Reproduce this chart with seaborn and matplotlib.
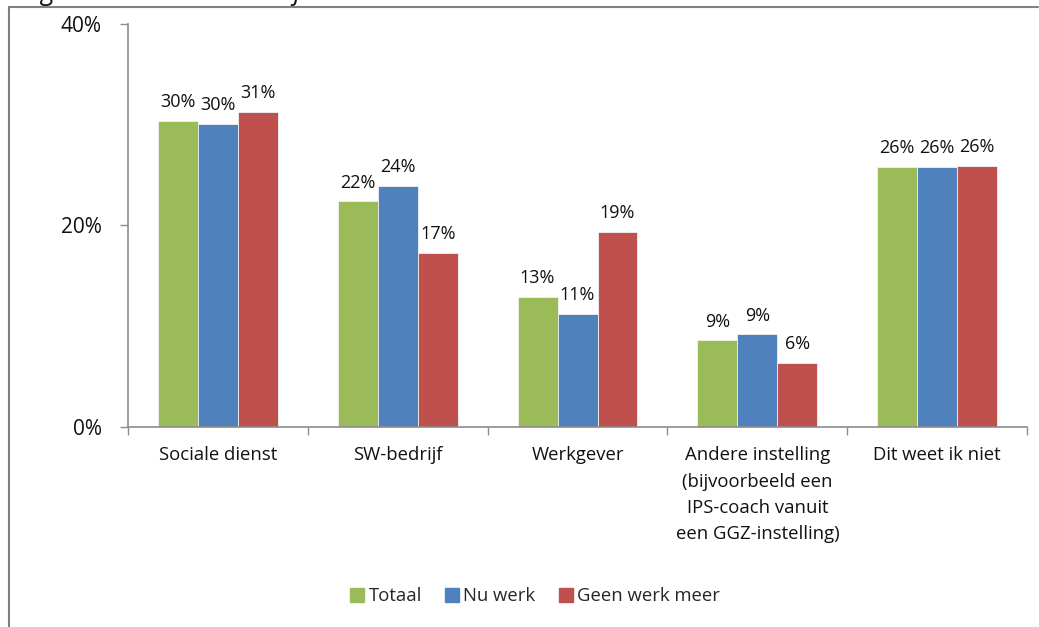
import matplotlib
matplotlib.use("Agg")
import matplotlib.pyplot as plt
from matplotlib.lines import Line2D
from matplotlib.ticker import FixedLocator
import numpy as np
import pandas as pd
import seaborn as sns

# Herkomst jobcoach, per groep (percentages)
categories = [
    "Sociale dienst",
    "SW-bedrijf",
    "Werkgever",
    "Andere instelling\n(bijvoorbeeld een\nIPS-coach vanuit\neen GGZ-instelling)",
    "Dit weet ik niet",
]
groups = ["Totaal", "Nu werk", "Geen werk meer"]
totaal = [30.4, 22.4, 12.9, 8.6, 25.8]
nu_werk = [30.1, 23.9, 11.2, 9.2, 25.8]
geen_werk_meer = [31.3, 17.3, 19.4, 6.4, 25.9]
colors = ["#9BBB59", "#4F81BD", "#C0504D"]
title = "Figuur 4.13 - Herkomst jobcoach"

df = pd.DataFrame({
    "categorie": categories * 3,
    "groep": [g for g in groups for _ in categories],
    "waarde": totaal + nu_werk + geen_werk_meer,
})

sns.set_theme(style="white")
plt.rcParams["font.family"] = ["Open Sans", "DejaVu Sans"]

fig = plt.figure(figsize=(10.39, 6.27), dpi=100)
ax = fig.add_axes([0.1232, 0.319, 0.8653, 0.6428])

sns.barplot(
    data=df, x="categorie", y="waarde", hue="groep",
    order=categories, hue_order=groups, palette=colors,
    width=0.667, saturation=1, edgecolor="#f2f2f2", linewidth=0.6,
    ax=ax, legend=False,
)

for cont in ax.containers:
    ax.bar_label(cont, labels=[f"{v:.0f}%" for v in cont.datavalues],
                 padding=7, fontsize=13, color="#111111")

ax.set_xlim(-0.5, len(categories) - 0.5)
ax.set_ylim(0, 40)
ax.set_yticks([0, 20, 40])
ax.set_yticklabels(["0%", "20%", "40%"], fontsize=15)
ax.set_xlabel("")
ax.set_ylabel("")

# category labels at the centres, tick marks between categories
ax.set_xticks(range(len(categories)))
ax.set_xticklabels(categories, fontsize=13.3, linespacing=1.58, va="top")
ax.xaxis.set_minor_locator(FixedLocator(np.arange(-0.5, len(categories), 1.0)))
ax.tick_params(axis="x", which="major", length=0, pad=14, colors="#111111")
ax.tick_params(axis="x", which="minor", length=6, width=1, color="#8c8c8c",
               direction="out", bottom=True)
ax.tick_params(axis="y", length=6, width=1, color="#8c8c8c", direction="out",
               left=True, pad=13, labelcolor="#111111")

for side in ["top", "right"]:
    ax.spines[side].set_visible(False)
for side in ["left", "bottom"]:
    ax.spines[side].set_color("#8c8c8c")
    ax.spines[side].set_linewidth(1.2)

handles = [Line2D([0], [0], marker="s", linestyle="", markersize=10,
                  markerfacecolor=c, markeredgecolor=c) for c in colors]
fig.legend(handles, groups, loc="center", bbox_to_anchor=(0.514, 0.049),
           ncol=3, frameon=False, fontsize=13.3, handletextpad=0.1,
           columnspacing=1.15, handlelength=1.0)

# chart frame and clipped caption above it
frame_x = 9 / 1039
frame_y = 1 - 7 / 627
fig.add_artist(Line2D([frame_x, frame_x], [0, frame_y], transform=fig.transFigure,
                      color="#808080", linewidth=1.5))
fig.add_artist(Line2D([frame_x, 1038 / 1039], [frame_y, frame_y],
                      transform=fig.transFigure, color="#808080", linewidth=1.5))
fig.text(22 / 1039, 1 - 6 / 627, title, fontsize=19, style="italic",
         ha="left", va="bottom", color="#111111")

fig.savefig("out.png", dpi=100, facecolor="white")
